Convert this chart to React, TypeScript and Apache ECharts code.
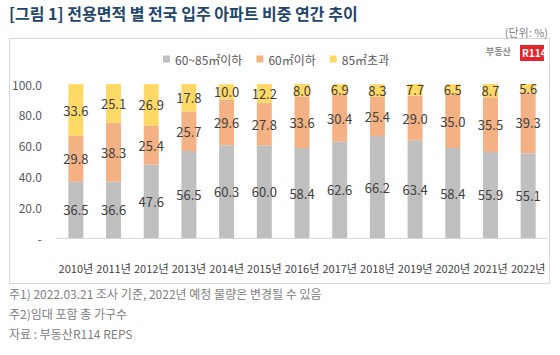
import React, { useEffect, useRef } from "react";
import * as echarts from "echarts";

const categories = ["2010년", "2011년", "2012년", "2013년", "2014년", "2015년", "2016년", "2017년", "2018년", "2019년", "2020년", "2021년", "2022년"];
const mid = [36.5, 36.6, 47.6, 56.5, 60.3, 60.0, 58.4, 62.6, 66.2, 63.4, 58.4, 55.9, 55.1];
const small = [29.8, 38.3, 25.4, 25.7, 29.6, 27.8, 33.6, 30.4, 25.4, 29.0, 35.0, 35.5, 39.3];
const large = [33.6, 25.1, 26.9, 17.8, 10.0, 12.2, 8.0, 6.9, 8.3, 7.7, 6.5, 8.7, 5.6];
const seriesNames = ["60~85㎡이하", "60㎡이하", "85㎡초과"];
const colors = ["#bfbfbf", "#f4b183", "#ffd966"];
const notes = ["주1) 2022.03.21 조사 기준, 2022년 예정 물량은 변경될 수 있음", "주2)임대 포함 총 가구수", "자료 : 부동산R114 REPS"];

const FONT = "'Noto Sans CJK KR', 'Noto Sans', sans-serif";

export default function App() {
  const ref = useRef<HTMLDivElement>(null);
  useEffect(() => {
    const chart = echarts.init(ref.current!, null, { renderer: "svg" });
    const lbl = {
      show: true,
      position: "inside",
      color: "#404040",
      fontSize: 13,
      fontFamily: FONT,
      formatter: (p: any) => Number(p.value).toFixed(1),
    };
    const datasets = [mid, small, large];
    chart.setOption({
      animation: false,
      backgroundColor: "#ffffff",
      textStyle: { fontFamily: FONT },
      legend: {
        top: 48,
        left: 158,
        itemWidth: 7,
        itemHeight: 7,
        itemGap: 14,
        icon: "rect",
        textStyle: { fontSize: 12, color: "#595959", fontFamily: FONT },
        data: seriesNames,
      },
      grid: { left: 57, right: 13, top: 84, bottom: 117, containLabel: false },
      xAxis: {
        type: "category",
        data: categories,
        axisLine: { lineStyle: { color: "#d9d9d9" } },
        axisTick: { show: false },
        axisLabel: { interval: 0, fontSize: 11, color: "#404040", margin: 24, fontFamily: FONT },
      },
      yAxis: {
        type: "value",
        min: 0,
        max: 100,
        interval: 20,
        splitLine: { show: false },
        axisLine: { show: false },
        axisTick: { show: false },
        axisLabel: {
          margin: 15,
          fontSize: 12,
          color: "#595959",
          fontFamily: FONT,
          formatter: (v: number) => (v === 0 ? "-" : v.toFixed(1)),
        },
      },
      series: datasets.map((d, i) => ({
        name: seriesNames[i],
        type: "bar",
        stack: "total",
        barWidth: 15,
        data: d,
        itemStyle: { color: colors[i] },
        label: lbl,
      })),
      graphic: [
        { type: "rect", shape: { x: 9.5, y: 38.5, width: 540, height: 245 }, style: { fill: "none", stroke: "#d9d9d9", lineWidth: 1 }, z: -1 },
        { type: "text", left: 9, top: 5, style: { text: "[그림 1] 전용면적 별 전국 입주 아파트 비중 연간 추이", fontSize: 16, fontWeight: "bold", fill: "#22456a", fontFamily: FONT } },
        { type: "text", right: 12, top: 26, style: { text: "(단위: %)", fontSize: 11, fill: "#7f7f7f", fontFamily: FONT } },
        { type: "text", left: 486, top: 47, style: { text: "부동산", fontSize: 9, fill: "#8a8a8a", fontWeight: "bold", fontFamily: FONT } },
        { type: "rect", shape: { x: 520, y: 45, width: 24, height: 16 }, style: { fill: "#e5252d" } },
        { type: "text", left: 522, top: 47, style: { text: "R114", fontSize: 10, fontWeight: "bold", fill: "#ffffff", fontFamily: FONT } },
        ...notes.map((t, i) => ({
          type: "text",
          left: 9,
          top: 287 + i * 20,
          style: { text: t, fontSize: 12, fill: "#808080", fontFamily: FONT },
        })),
      ],
    });
    return () => chart.dispose();
  }, []);
  return <div ref={ref} style={{ width: 560, height: 355, position: "absolute", left: 0, top: 0 }} />;
}
